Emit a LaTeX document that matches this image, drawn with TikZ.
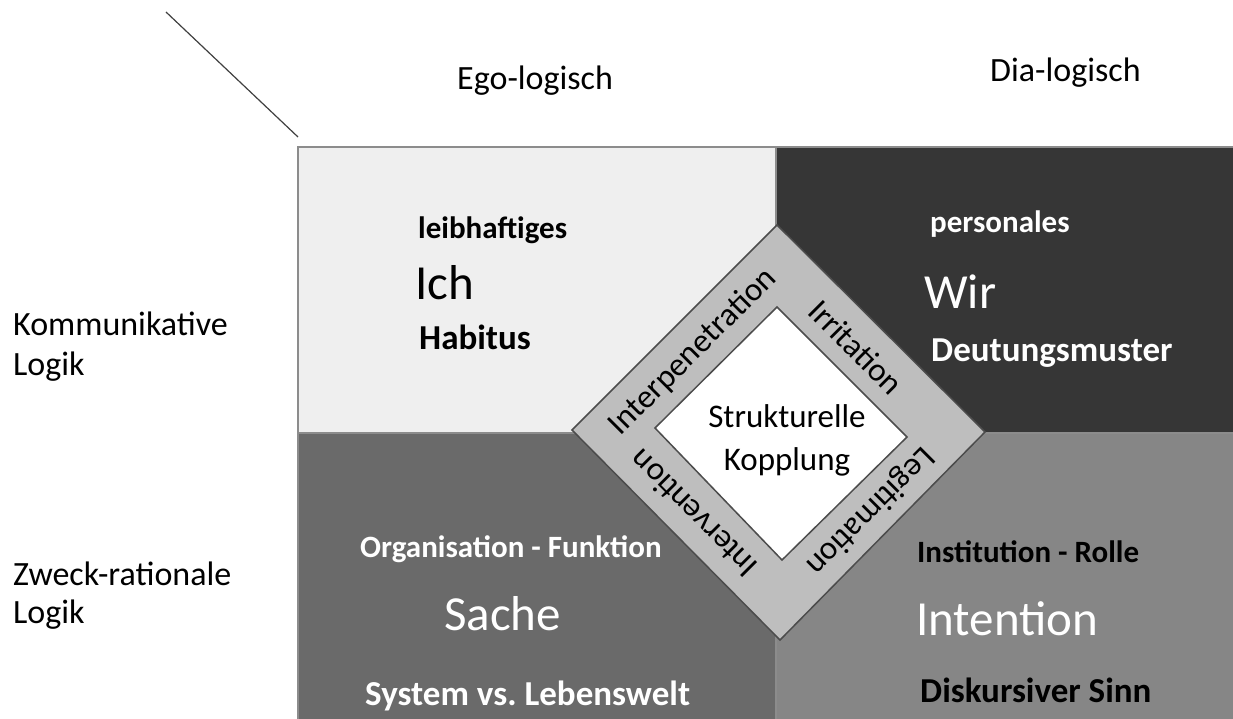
\documentclass[tikz,border=0pt]{standalone}
\usepackage{fontspec}
\setmainfont{Carlito}
\usepackage{tikz}
\usetikzlibrary{calc}
\frenchspacing
\definecolor{egocell}{HTML}{EFEFEF}
\definecolor{wircell}{HTML}{363636}
\definecolor{sachecell}{HTML}{6A6A6A}
\definecolor{intentcell}{HTML}{868686}
\definecolor{ringgray}{HTML}{BEBEBE}
\definecolor{rand}{HTML}{8C8C8C}
\tikzset{
  cell/.style={draw=rand, line width=1.5pt},
  kopf/.style={font=\fontsize{34}{40}\selectfont, anchor=base west, inner sep=0pt},
  oben/.style={font=\bfseries\fontsize{31}{36}\selectfont, anchor=base west, inner sep=0pt},
  gross/.style={font=\fontsize{49}{55}\selectfont, anchor=base west, inner sep=0pt},
  unten/.style={font=\bfseries\fontsize{35}{40}\selectfont, anchor=base west, inner sep=0pt},
  ringtext/.style={font=\fontsize{33}{38}\selectfont, inner sep=0pt}
}

\begin{document}
\begin{tikzpicture}[x=1pt,y=-1pt]
\useasboundingbox[fill=white] (0,0) rectangle (1233,719);

% Vierfelder
\filldraw[cell, fill=egocell] (298,147) rectangle (776,433);
\filldraw[cell, fill=wircell] (776,147) rectangle (1234,433);
\filldraw[cell, fill=sachecell] (298,433) rectangle (776,720);
\filldraw[cell, fill=intentcell] (776,433) rectangle (1234,720);

% Eckstrich
\coordinate (strichA) at (166,12);
\coordinate (strichB) at (298,137);
\draw[black!75, line width=1.2pt] (strichA) -- (strichB);

% Raute
\coordinate (aN) at (777,225);
\coordinate (aO) at (985,432);
\coordinate (aS) at (780,640);
\coordinate (aW) at (572,430);
\coordinate (iN) at (777,307);
\coordinate (iO) at (907,437);
\coordinate (iS) at (782,560);
\coordinate (iW) at (655,428);
\filldraw[fill=ringgray, draw=black!70, line width=1.5pt] (aN) -- (aO) -- (aS) -- (aW) -- cycle;
\filldraw[fill=white, draw=black!70, line width=1.5pt] (iN) -- (iO) -- (iS) -- (iW) -- cycle;

\node[ringtext, rotate=45] (interpen) at (693,352) {Interpenetration};
\node[ringtext, rotate=-45] (irritation) at (856,347) {Irritation};
\node[ringtext, rotate=135] (intervention) at (693,514) {Intervention};
\node[ringtext, rotate=225] (legitimation) at (870,511) {Legitimation};
\node[ringtext, anchor=base] (strukt) at (787,427) {Strukturelle};
\node[ringtext, anchor=base] (kopplung) at (787,470) {Kopplung};

% Kopfzeile und Randspalte
\node[kopf] (ego) at (457,90) {Ego-logisch};
\node[kopf] (dia) at (990,82) {Dia-logisch};
\node[kopf] (kommu) at (13,335) {Kommunikative};
\node[kopf] (kommuLogik) at (13,375) {Logik};
\node[kopf] (zweck) at (13,585) {Zweck-rationale};
\node[kopf] (zweckLogik) at (13,623) {Logik};

% Felder
\node[oben] (leib) at (418,239) {leibhaftiges};
\node[gross] (ich) at (415,299) {Ich};
\node[unten] (habitus) at (419,349) {Habitus};

\node[oben, text=white] (personal) at (930,233) {personales};
\node[gross, text=white] (wir) at (924,308) {Wir};
\node[unten, text=white] (deutung) at (931,361) {Deutungsmuster};

\node[oben, text=white] (organ) at (360,557) {Organisation - Funktion};
\node[gross, text=white] (sache) at (444,630) {Sache};
\node[unten, text=white] (system) at (365,705) {System vs. Lebenswelt};

\node[oben] (instit) at (917,562) {Institution - Rolle};
\node[gross, text=white] (intent) at (916,635) {Intention};
\node[unten] (diskurs) at (920,702) {Diskursiver Sinn};
\end{tikzpicture}
\end{document}
